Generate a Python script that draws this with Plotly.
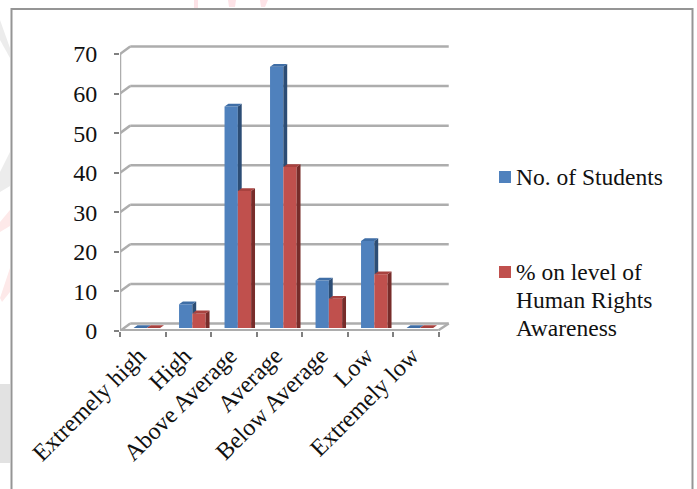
import plotly.graph_objects as go

categories = ["Extremely high", "High", "Above Average", "Average", "Below Average", "Low", "Extremely low"]
students = [0, 6, 56, 66, 12, 22, 0]
percent = [0, 3.7, 34.6, 40.7, 7.4, 13.6, 0]
y_ticks = [0, 10, 20, 30, 40, 50, 60, 70]
series_names = ["No. of Students", "% on level of Human Rights Awareness"]
legend_lines = ["No. of Students", "% on level of", "Human Rights", "Awareness"]

W, H = 697, 489
LEFT, RIGHT, BOTTOM, TOP = 120, 453, 331, 43
PX_X, PX_Y = 45.5, 3.957

GAP = 0.415
BAR_W = (1 - GAP) / 2
BAR_SHIFT_X, BAR_BASE = 0.09, 0.75     # bars stand midway along the floor depth
FACE_DX, FACE_DY = 0.085, 0.7          # visible depth of each bar
WALL_DX, WALL_DY = 0.225, 1.9          # offset of the back wall

GRID = "#adadad"
FRONT = ["#4f81bd", "#c0504d"]
TOPS = ["#3f6ea6", "#a8423f"]
SIDES = ["#2c4d75", "#772c2a"]


def line(x0, y0, x1, y1, color=GRID, width=2.5):
    return dict(type="line", xref="x", yref="y", x0=x0, y0=y0, x1=x1, y1=y1,
                layer="below", line=dict(color=color, width=width))


def patch(points, color):
    path = "M" + "L".join(f"{x},{y}" for x, y in points) + "Z"
    return dict(type="path", xref="paper", yref="paper", layer="below", path=path,
                fillcolor=color, line=dict(width=0))


def px(points):
    return [(x / W, 1 - y / H) for x, y in points]


def faces(values, in_front, group):
    """Polygons for the side and top faces of one series."""
    sx, sy, tx, ty = [], [], [], []
    for i, v in enumerate(values):
        left = i + 0.5 + BAR_SHIFT_X - BAR_W + group * BAR_W
        right = left + BAR_W
        top = BAR_BASE + v
        floor = BAR_BASE + (in_front[i] if in_front else 0)
        if v > 0:
            sx += [right, right + FACE_DX, right + FACE_DX, right, right, None]
            sy += [top, top + FACE_DY, floor, floor, top, None]
        tx += [left, left + FACE_DX, right + FACE_DX, right, left, None]
        ty += [top, top + FACE_DY, top + FACE_DY, top, top, None]
    return sx, sy, tx, ty


fig = go.Figure()

centres = [i + 0.5 + BAR_SHIFT_X for i in range(len(categories))]
for g, (vals, name) in enumerate(zip([students, percent], series_names)):
    fig.add_trace(go.Bar(x=centres, y=vals, base=BAR_BASE, name=name,
                         marker=dict(color=FRONT[g], line=dict(width=0)), showlegend=False))

for g, vals in enumerate([students, percent]):
    sx, sy, tx, ty = faces(vals, percent if g == 0 else None, g)
    for xs, ys, col in [(sx, sy, SIDES[g]), (tx, ty, TOPS[g])]:
        fig.add_trace(go.Scatter(x=xs, y=ys, mode="lines", fill="toself", fillcolor=col,
                                 line=dict(width=0, color=col), hoverinfo="skip", showlegend=False))

n = len(categories)
shapes = []

# faint marks showing through the page around the chart frame
shapes += [
    patch(px([(0, 20), (10, 48), (10, 58), (0, 40)]), "#ececec"),
    patch(px([(0, 172), (10, 152), (10, 186), (0, 192)]), "#ececec"),
    patch(px([(0, 384), (10, 384), (10, 463), (0, 463)]), "#e2e2e2"),
    patch(px([(0, 222), (10, 210), (10, 226), (0, 232)]), "#fde9e9"),
    patch(px([(0, 298), (10, 268), (10, 292), (2, 302)]), "#fde9e9"),
    patch(px([(194, 0), (198, 0), (198, 8), (194, 8)]), "#fde3e7"),
    patch(px([(228, 0), (236, 0), (235, 7), (229, 7)]), "#fde3e7"),
    patch(px([(260, 0), (268, 0), (265, 7), (261, 7)]), "#fde3e7"),
]

# back wall gridlines and their returns to the front axis
for v in y_ticks:
    shapes.append(line(WALL_DX, v + WALL_DY, n + WALL_DX, v + WALL_DY))
    shapes.append(line(0, v, WALL_DX, v + WALL_DY))
# floor edges and front axis
shapes.append(line(0, 0.2, n, 0.2))
shapes.append(line(n, 0.2, n + WALL_DX, WALL_DY))
shapes.append(line(0, 0, 0, max(y_ticks)))

# chart frame, open at the bottom edge of the page
shapes.append(dict(type="path", xref="paper", yref="paper", layer="below",
                   path="M%f,0L%f,%fL%f,%fL%f,0" % (11.5 / W, 11.5 / W, 1 - 9 / H, 692.5 / W, 1 - 9 / H, 692.5 / W),
                   line=dict(color="#959595", width=2)))

# legend swatches
for g, y in enumerate([171, 266]):
    shapes.append(dict(type="rect", xref="paper", yref="paper", layer="above",
                       x0=499 / W, x1=511 / W, y0=1 - (y + 12) / H, y1=1 - y / H,
                       fillcolor=FRONT[g], line=dict(width=0)))

annotations = [
    dict(xref="paper", yref="paper", x=514 / W, y=1 - yc / H, text=t, showarrow=False,
         xanchor="left", yanchor="middle", align="left",
         font=dict(family="Liberation Serif", size=23.5, color="#111111"))
    for t, yc in zip(legend_lines, [177, 272, 300, 328])
]

fig.update_layout(
    width=W, height=H, margin=dict(l=0, r=0, t=0, b=0, autoexpand=False),
    paper_bgcolor="white", plot_bgcolor="rgba(0,0,0,0)",
    barmode="group", bargap=GAP, bargroupgap=0,
    shapes=shapes, annotations=annotations,
    font=dict(family="Liberation Serif", size=24, color="#111111"),
    xaxis=dict(domain=[LEFT / W, RIGHT / W], range=[0, (RIGHT - LEFT) / PX_X],
               tickmode="array", tickvals=[i + 0.5 for i in range(n)], ticktext=categories,
               tickangle=-45, ticks="", showgrid=False, zeroline=False, showline=False,
               ticklabelstandoff=5, ticklabelshift=-4,
               minor=dict(tickmode="array", tickvals=list(range(n + 1)), ticks="outside",
                          ticklen=5, tickwidth=1.5, tickcolor="#808080", showgrid=False)),
    yaxis=dict(domain=[1 - BOTTOM / H, 1 - TOP / H], range=[0, (BOTTOM - TOP) / PX_Y],
               tickmode="array", tickvals=y_ticks, ticks="outside", ticklen=5, tickwidth=1.5,
               tickcolor="#808080", showgrid=False, zeroline=False, showline=False,
               ticklabelstandoff=12),
)

fig.write_html("out.html")
